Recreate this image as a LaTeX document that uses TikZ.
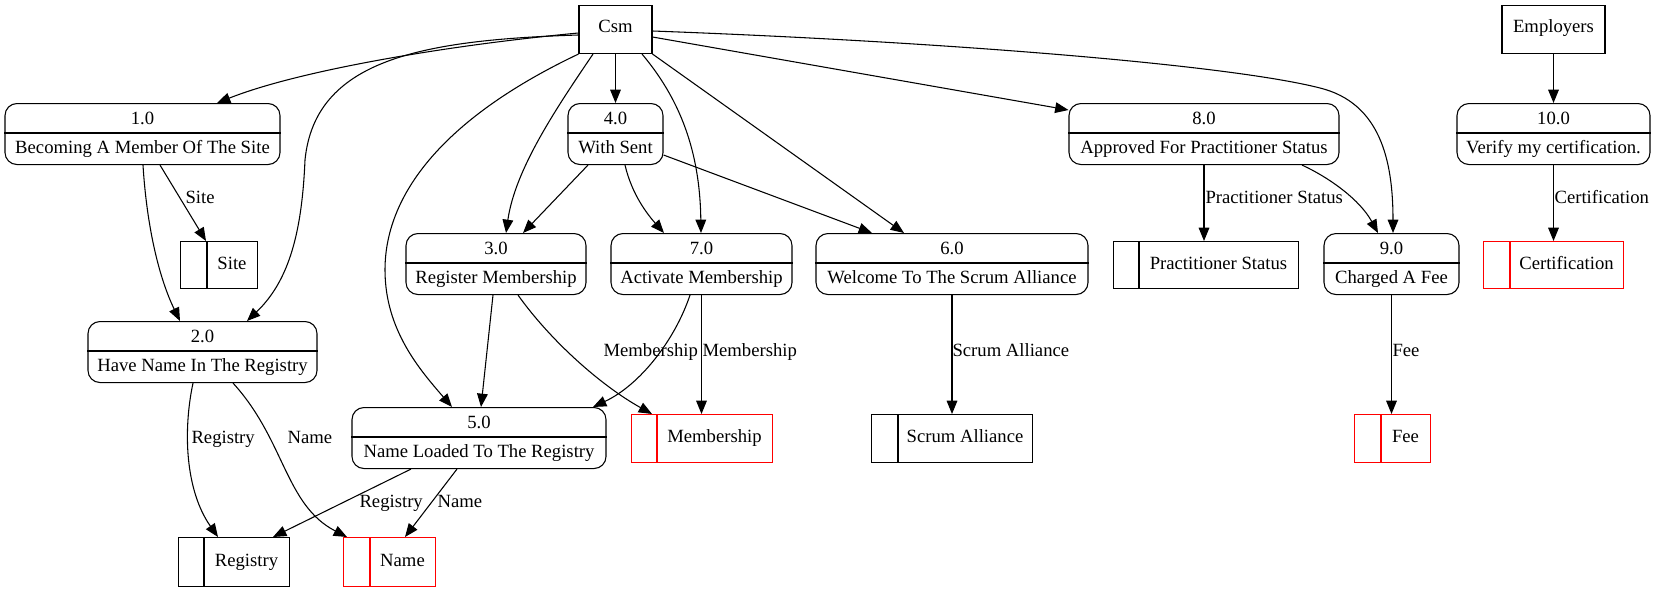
\documentclass[tikz,border=0pt]{standalone}
\usepackage{fontspec}
\setmainfont{Liberation Serif}
\usetikzlibrary{arrows.meta,calc}
\tikzset{
  px/.style={x=0.75pt,y=-0.75pt},
  proc/.style={draw, rounded corners=9pt, inner sep=0pt, minimum height=45.75pt},
  ext/.style={draw, inner sep=0pt, minimum height=36pt},
  store/.style={draw, inner sep=0pt},
  lbl/.style={inner sep=0pt, anchor=base},
  elbl/.style={inner sep=0pt, anchor=base west},
  flow/.style={draw, -{Triangle[length=10pt,width=8pt]}},
}
\newcommand\mkproc[6]{%
  \pgfmathsetmacro\mkA{#3+30}\pgfmathsetmacro\mkB{#3+21}\pgfmathsetmacro\mkC{#3+50}%
  \node[proc, minimum width=#4*0.75pt, anchor=north] (#1) at (#2,#3) {};
  \draw (#1.west |- 0,\mkA) -- (#1.east |- 0,\mkA);
  \node[lbl] (#1a) at (#2,\mkB) {#5};
  \node[lbl] (#1b) at (#2,\mkC) {#6};
}
\newcommand\mkstore[8]{%
  \pgfmathsetmacro\mkA{(#3+#4)/2}\pgfmathsetmacro\mkB{(#5+#6)/2+4.5}%
  \node[store, draw=#7, minimum width=(#4-#2)*0.75pt, minimum height=(#6-#5)*0.75pt, anchor=north west] (#1) at (#2,#5) {};
  \draw[#7] (#1.north -| #3,0) -- (#1.south -| #3,0);
  \node[lbl] (#1t) at (\mkA,\mkB) {#8};
}
\begin{document}
\begin{tikzpicture}[px, line width=0.8pt, font=\fontsize{14pt}{16pt}\selectfont]
\useasboundingbox (0,0) rectangle (1655,592);

% external entities
\node[ext, minimum width=73*0.75pt, anchor=north] (csm) at (615.5,5) {};
\node[lbl] (csmt) at (615.5,33) {Csm};
\node[ext, minimum width=103*0.75pt, anchor=north] (emp) at (1553.5,5) {};
\node[lbl] (empt) at (1553.5,33) {Employers};

% processes
\mkproc{p1}{142.5}{103}{275}{1.0}{Becoming A Member Of The Site}
\mkproc{p4}{615.5}{103}{95}{4.0}{With Sent}
\mkproc{p8}{1204}{103}{270}{8.0}{Approved For Practitioner Status}
\mkproc{p10}{1553.5}{103}{193}{10.0}{Verify my certification.}
\mkproc{p3}{496}{233}{180}{3.0}{Register Membership}
\mkproc{p7}{701.5}{233}{181}{7.0}{Activate Membership}
\mkproc{p6}{952}{233}{272}{6.0}{Welcome To The Scrum Alliance}
\mkproc{p9}{1391.5}{233}{135}{9.0}{Charged A Fee}
\mkproc{p2}{202.5}{321}{229}{2.0}{Have Name In The Registry}
\mkproc{p5}{479}{407}{254}{5.0}{Name Loaded To The Registry}

% data stores
\mkstore{site}{180}{207}{257}{241}{288}{black}{Site}
\mkstore{ps}{1113}{1139}{1298}{241}{288}{black}{Practitioner Status}
\mkstore{cert}{1483}{1510}{1623}{241}{288}{red}{Certification}
\mkstore{memb}{631}{657}{772}{414}{462}{red}{Membership}
\mkstore{scrum}{871}{898}{1032}{414}{462}{black}{Scrum Alliance}
\mkstore{fee}{1354}{1381}{1430}{414}{462}{red}{Fee}
\mkstore{reg}{178}{204}{289}{537}{586}{black}{Registry}
\mkstore{name}{343}{370}{435}{537}{586}{red}{Name}

% flows from Csm
\draw[flow] (csm.west |- 0,33) .. controls (450,45) and (300,70) .. (p1.north -| 217,0);
\draw[flow] (csm.west |- 0,35) .. controls (420,40) and (315,60) .. (305,160) .. controls (302,230) and (290,280) .. (p2.north -| 247,0);
\draw[flow] (csm.south west) .. controls (450,115) and (385,190) .. (385,270) .. controls (385,330) and (420,370) .. (p5.north -| 452,0);
\draw[flow] (csm.south -| 593,0) .. controls (555,110) and (515,170) .. (p3.north -| 506,0);
\draw[flow] (csm.south) -- (p4.north);
\draw[flow] (csm.south -| 642,0) .. controls (685,105) and (700,160) .. (p7.north -| 701,0);
\draw[flow] (csm.south east) -- (p6.north -| 904,0);
\draw[flow] (csm.east |- 0,37) -- (p8.west |- 0,110);
\draw[flow] (csm.east |- 0,31) .. controls (950,42) and (1230,65) .. (1320,88) .. controls (1380,103) and (1393,160) .. (p9.north -| 1393,0);
\draw[flow] (emp.south) -- (p10.north);

% other flows
\draw[flow] (p1.south -| 160,0) -- (site.north -| 206,0);
\draw[flow] (p1.south -| 143,0) .. controls (147,230) and (160,280) .. (p2.north -| 180,0);
\draw[flow] (p4.south -| 588,0) -- (p3.north -| 523,0);
\draw[flow] (p4.south -| 625,0) .. controls (632,195) and (648,215) .. (p7.north -| 664,0);
\draw[flow] (p4.east |- 0,155) -- (p6.north -| 872,0);
\draw[flow] (p8.south) -- (ps.north -| p8.south);
\draw[flow] (p8.south -| 1302,0) .. controls (1330,178) and (1360,200) .. (p9.north -| 1378,0);
\draw[flow] (p10.south) -- (cert.north -| p10.south);
\draw[flow] (p3.south -| 493,0) -- (p5.north -| 481,0);
\draw[flow] (p3.south -| 518,0) .. controls (550,340) and (600,385) .. (memb.north -| 652,0);
\draw[flow] (p7.south -| 690,0) .. controls (675,340) and (640,385) .. (p5.north -| 593,0);
\draw[flow] (p7.south) -- (memb.north -| p7.south);
\draw[flow] (p6.south) -- (scrum.north -| p6.south);
\draw[flow] (p9.south) -- (fee.north -| p9.south);
\draw[flow] (p2.south -| 193,0) .. controls (183,430) and (185,490) .. (reg.north -| 218,0);
\draw[flow] (p2.south -| 233,0) .. controls (285,440) and (285,505) .. (name.north -| 347,0);
\draw[flow] (p5.south -| 411,0) -- (reg.north -| 273,0);
\draw[flow] (p5.south -| 457,0) -- (name.north -| 405,0);

% flow labels
\node[elbl] (lsite) at (185,203) {Site};
\node[elbl] (lps) at (1205,203) {Practitioner Status};
\node[elbl] (lcert) at (1554,203) {Certification};
\node[elbl] (lmemb1) at (603,356) {Membership};
\node[elbl] (lmemb2) at (702,356) {Membership};
\node[elbl] (lscrum) at (952,356) {Scrum Alliance};
\node[elbl] (lfee) at (1392,356) {Fee};
\node[elbl] (lreg1) at (191,443) {Registry};
\node[elbl] (lname1) at (287,443) {Name};
\node[elbl] (lreg2) at (359,507) {Registry};
\node[elbl] (lname2) at (437,507) {Name};
\end{tikzpicture}
\end{document}
